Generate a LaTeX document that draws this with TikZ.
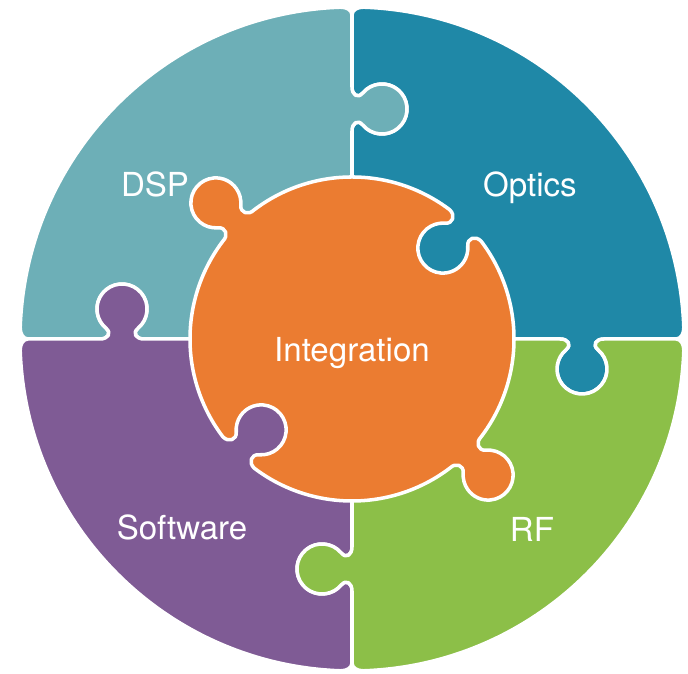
\documentclass[tikz,border=0pt]{standalone}
\usepackage{fontspec}
\setmainfont{TeX Gyre Heros}

\definecolor{dspcol}{HTML}{6DAFB7}
\definecolor{opticscol}{HTML}{1F88A7}
\definecolor{softcol}{HTML}{7F5B95}
\definecolor{rfcol}{HTML}{8CBF48}
\definecolor{integcol}{HTML}{EB7C31}

\begin{document}
\begin{tikzpicture}[x=0.01cm, y=0.01cm,
    piece/.style={draw=white, line width=1pt, line join=round},
    piecetext/.style={text=white, anchor=base, inner sep=0pt, font=\fontsize{9.4}{11}\selectfont},
    knob/.style n args={4}{insert path={
        -- ([shift={#1},rotate=#2]-22,0)
        .. controls ([shift={#1},rotate=#2]-14,0) and ([shift={#1},rotate=#2]-10,{#3*(#4-24.3)})
        .. ([shift={#1},rotate=#2]-16.1,{#3*(#4-19.15)})
        arc[start angle={#3*230+(#2)}, end angle={0-(#3)*50+(#2)}, radius=25]
        .. controls ([shift={#1},rotate=#2]10,{#3*(#4-24.3)}) and ([shift={#1},rotate=#2]14,0)
        .. ([shift={#1},rotate=#2]22,0)}}]
    \useasboundingbox (-352,-335) rectangle (336,339);
    %outer pieces
    \foreach \ang/\col in {0/opticscol,90/dspcol,180/softcol,270/rfcol}{
        \begin{scope}[rotate=\ang]
            \path[piece, fill=\col] (0,0) [knob={(230,0)}{0}{-1}{30}] -- (324,0) .. controls (329,0) and (332,5.6) .. (2:332)
                arc[start angle=2, end angle=88, radius=332] .. controls (5.6,332) and (0,329) .. (0,324)
                [knob={(0,230)}{-90}{1}{30}] -- cycle;
        \end{scope}
    }
    %Integration
    \path[piece, fill=integcol] (142.8:162) [knob={(135:160.5)}{45}{1}{32}]
        arc[start angle=127.2, end angle=52.8, radius=162] [knob={(45:160.5)}{-45}{-1}{32}]
        arc[start angle=37.2, end angle=-37.2, radius=162] [knob={(-45:160.5)}{-135}{1}{32}]
        arc[start angle=-52.8, end angle=-127.2, radius=162] [knob={(225:160.5)}{135}{-1}{32}]
        arc[start angle=217.2, end angle=142.8, radius=162] -- cycle;
    %labels
    \node[piecetext] at (-197,142) (dsp) {DSP};
    \node[piecetext] at (178,142) (optics) {Optics};
    \node[piecetext] at (0,-23) (integ) {Integration};
    \node[piecetext] at (-170,-201) (soft) {Software};
    \node[piecetext] at (180,-203) (rf) {RF};
\end{tikzpicture}
\end{document}
